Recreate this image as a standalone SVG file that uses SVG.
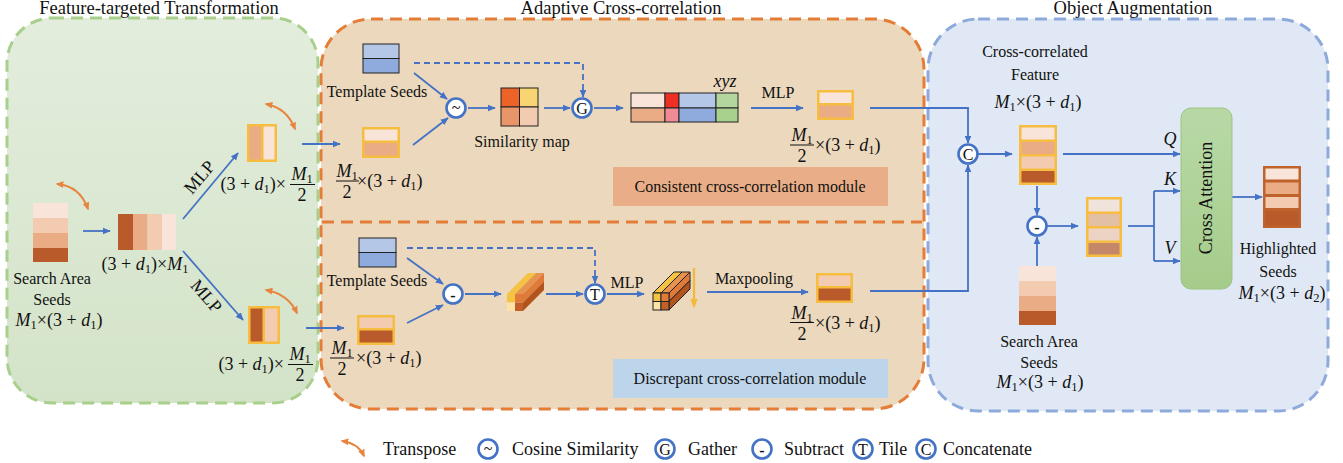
<svg xmlns="http://www.w3.org/2000/svg" width="1343" height="463" viewBox="0 0 1343 463">
<defs>
  <linearGradient id="gGreen" x1="0" y1="0" x2="0" y2="1">
    <stop offset="0" stop-color="#e3eddd"/>
    <stop offset="1" stop-color="#d3e3c8"/>
  </linearGradient>
  <linearGradient id="gAttn" x1="0" y1="0" x2="0" y2="1">
    <stop offset="0" stop-color="#b8d9a6"/>
    <stop offset="1" stop-color="#a5cc8b"/>
  </linearGradient>
  <marker id="ab" viewBox="0 0 10 10" refX="9" refY="5" markerWidth="8" markerHeight="8" markerUnits="userSpaceOnUse" orient="auto">
    <path d="M0,0.8 L10,5 L0,9.2 z" fill="#4472c4"/>
  </marker>
  <marker id="ao" viewBox="0 0 10 10" refX="8" refY="5" markerWidth="8" markerHeight="8" markerUnits="userSpaceOnUse" orient="auto-start-reverse">
    <path d="M0,0.8 L10,5 L0,9.2 z" fill="#e7843f"/>
  </marker>
  <marker id="ay" viewBox="0 0 10 10" refX="9" refY="5" markerWidth="9" markerHeight="9" markerUnits="userSpaceOnUse" orient="auto">
    <path d="M0,0.8 L10,5 L0,9.2 z" fill="#f5b93a"/>
  </marker>
  <style>
    .t { font-family: "Liberation Serif", "Times New Roman", serif; font-size: 16px; fill: #111; }
    .ttl { font-family: "Liberation Serif", "Times New Roman", serif; font-size: 18.5px; fill: #111; }
    .lg { font-family: "Liberation Serif", "Times New Roman", serif; font-size: 18px; fill: #111; }
    .mt { font-family: "Liberation Serif", "Times New Roman", serif; font-size: 18px; fill: #111; }
    .it { font-style: italic; }
    .sb { font-size: 12.5px; }
    .op { fill: #fff; stroke: #4472c4; stroke-width: 2.6; }
    .opt { font-family: "Liberation Serif", "Times New Roman", serif; font-size: 16px; fill: #111; text-anchor: middle; }
    .arr { fill: none; stroke: #4472c4; stroke-width: 1.8; marker-end: url(#ab); }
    .ln { fill: none; stroke: #4472c4; stroke-width: 1.8; }
    .dash { fill: none; stroke: #4472c4; stroke-width: 1.8; stroke-dasharray: 6 4; marker-end: url(#ab); }
    .tp { fill: none; stroke: #e7843f; stroke-width: 2; marker-start: url(#ao); marker-end: url(#ao); }
    .bar { stroke: #111; stroke-width: 1; }
    .cell { stroke: #222; stroke-width: 1; }
    .c0 { fill: #f8e4d8; }
    .c1 { fill: #f2cbb0; }
    .c2 { fill: #eaac85; }
    .c3 { fill: #b85a2a; }
    .yb { fill: #f6bd41; }
    .blA { fill: #b4c7e7; }
    .blB { fill: #8faadc; }
    .edge { stroke: #222; stroke-width: 1; }
  </style>
</defs>

<!-- background panels -->
<g id="panel-feature">
  <rect x="7" y="18" width="311" height="385" rx="45" fill="url(#gGreen)" stroke="#a9cf8c" stroke-width="3" stroke-dasharray="12 7"/>
  <text class="ttl" x="159" y="14" text-anchor="middle">Feature-targeted Transformation</text>
</g>
<g id="panel-adaptive">
  <rect x="321" y="19" width="603" height="390" rx="50" fill="#ebd8bd" stroke="#e37d38" stroke-width="3" stroke-dasharray="12 7"/>
  <line x1="322" y1="222" x2="922" y2="222" stroke="#e37d38" stroke-width="3" stroke-dasharray="12 7"/>
  <text class="ttl" x="621" y="14" text-anchor="middle">Adaptive Cross-correlation</text>
</g>
<g id="panel-object">
  <rect x="928" y="19" width="400" height="392" rx="50" fill="#dfe8f4" stroke="#8eaadb" stroke-width="3" stroke-dasharray="12 7"/>
  <text class="ttl" x="1133" y="14" text-anchor="middle">Object Augmentation</text>
</g>

<!-- connectors -->
<g id="connectors">
  <!-- feature-targeted transformation -->
  <path class="arr" d="M83,231 H110"/>
  <path class="arr" d="M183,219 L238,153"/>
  <path class="arr" d="M183,251 L243,320"/>
  <path class="tp" d="M57,184 Q80,186 88,209"/>
  <path class="tp" d="M266,104 Q287,108 295,129"/>
  <path class="tp" d="M266,290 Q288,294 297,313"/>
  <path class="arr" d="M302,144 H340"/>
  <path class="arr" d="M306,328 H344"/>
  <!-- consistent branch -->
  <path class="arr" d="M414,73 L447,99"/>
  <path class="arr" d="M413,145 L448,118"/>
  <path class="arr" d="M468,108 H495"/>
  <path class="arr" d="M544,108 H570"/>
  <path class="dash" d="M414,63 H583 V97"/>
  <path class="arr" d="M594,108 H623"/>
  <path class="arr" d="M751,108 H803"/>
  <path class="arr" d="M870,108 H968 V143"/>
  <!-- discrepant branch -->
  <path class="arr" d="M407,258 L443,284"/>
  <path class="arr" d="M407,323 L443,305"/>
  <path class="arr" d="M465,294 H501"/>
  <path class="dash" d="M407,248 H595 V283"/>
  <path class="arr" d="M546,294 H583"/>
  <path class="arr" d="M607,294 H644"/>
  <path d="M694,268 V307" fill="none" stroke="#f5b93a" stroke-width="2.2" marker-end="url(#ay)"/>
  <path class="arr" d="M707,292 H808"/>
  <path class="arr" d="M870,291 H968 V165"/>
  <!-- object augmentation -->
  <path class="arr" d="M978,154 H1012"/>
  <path class="arr" d="M1063,154 H1180"/>
  <path class="arr" d="M1037,186 V215"/>
  <path class="arr" d="M1037,266 V237"/>
  <path class="arr" d="M1047,226 H1078"/>
  <path class="ln" d="M1128,226 H1154"/>
  <path class="ln" d="M1154,191 V261"/>
  <path class="arr" d="M1154,191 H1180"/>
  <path class="arr" d="M1154,261 H1180"/>
  <path class="arr" d="M1232,197 H1262"/>
</g>

<!-- search area seeds (input) -->
<g id="search-seeds">
  <rect class="c0" x="33" y="203" width="35" height="15"/>
  <rect class="c1" x="33" y="218" width="35" height="15"/>
  <rect class="c2" x="33" y="233" width="35" height="15"/>
  <rect class="c3" x="33" y="248" width="35" height="14"/>
  <text class="t" x="52" y="284" text-anchor="middle">Search Area</text>
  <text class="t" x="52" y="305" text-anchor="middle">Seeds</text>
  <text class="mt" x="59" y="326" text-anchor="middle"><tspan class="it">M</tspan><tspan class="sb" dy="3">1</tspan><tspan dy="-3">×(3 + </tspan><tspan class="it">d</tspan><tspan class="sb" dy="3">1</tspan><tspan dy="-3">)</tspan></text>
</g>

<g id="transposed-seeds">
  <rect class="c3" x="118" y="214" width="15" height="36"/>
  <rect class="c2" x="133" y="214" width="14.5" height="36"/>
  <rect class="c1" x="147.5" y="214" width="14.5" height="36"/>
  <rect class="c0" x="162" y="214" width="14" height="36"/>
  <text class="mt" x="145" y="270" text-anchor="middle">(3 + <tspan class="it">d</tspan><tspan class="sb" dy="3">1</tspan><tspan dy="-3">)×</tspan><tspan class="it">M</tspan><tspan class="sb" dy="3">1</tspan></text>
  <text class="mt" transform="translate(204,181) rotate(-50)" text-anchor="middle">MLP</text>
  <text class="mt" transform="translate(202,300) rotate(49)" text-anchor="middle">MLP</text>
</g>

<g id="split-upper">
  <rect class="yb" x="247" y="124" width="30" height="38"/>
  <rect class="c2" x="249.5" y="126.5" width="11.5" height="33"/>
  <rect class="c0" x="263.5" y="126.5" width="11" height="33"/>
  <text class="mt" x="286" y="190" text-anchor="end">(3 + <tspan class="it">d</tspan><tspan class="sb" dy="3">1</tspan><tspan dy="-3">)×</tspan></text>
  <text class="mt" x="302" y="180" text-anchor="middle"><tspan class="it">M</tspan><tspan class="sb" dy="3">1</tspan></text>
  <line class="bar" x1="290" y1="184.5" x2="315" y2="184.5"/>
  <text class="mt" x="302" y="201" text-anchor="middle">2</text>
</g>

<g id="split-lower">
  <rect class="yb" x="248" y="306" width="32" height="38"/>
  <rect class="c3" x="250.5" y="308.5" width="12" height="33"/>
  <rect class="c1" x="265" y="308.5" width="12.5" height="33"/>
  <text class="mt" x="284" y="370" text-anchor="end">(3 + <tspan class="it">d</tspan><tspan class="sb" dy="3">1</tspan><tspan dy="-3">)×</tspan></text>
  <text class="mt" x="300" y="360" text-anchor="middle"><tspan class="it">M</tspan><tspan class="sb" dy="3">1</tspan></text>
  <line class="bar" x1="288" y1="364.5" x2="313" y2="364.5"/>
  <text class="mt" x="300" y="381" text-anchor="middle">2</text>
</g>

<!-- consistent cross-correlation -->
<g id="template-seeds-top">
  <rect class="blA edge" x="363" y="44" width="36" height="14.5"/>
  <rect class="blB edge" x="363" y="58.5" width="36" height="14.5"/>
  <text class="t" x="377" y="97" text-anchor="middle">Template Seeds</text>
</g>

<g id="search-half-top">
  <rect class="yb" x="362" y="127" width="38" height="31"/>
  <rect class="c0" x="364.5" y="129.5" width="33" height="11"/>
  <rect class="c2" x="364.5" y="143" width="33" height="12.5"/>
  <text class="mt" x="347" y="177" text-anchor="middle"><tspan class="it">M</tspan><tspan class="sb" dy="3">1</tspan></text>
  <line class="bar" x1="336" y1="181" x2="359" y2="181"/>
  <text class="mt" x="347" y="198" text-anchor="middle">2</text>
  <text class="mt" x="357" y="187">×(3 + <tspan class="it">d</tspan><tspan class="sb" dy="3">1</tspan><tspan dy="-3">)</tspan></text>
</g>

<g id="op-cosine">
  <circle class="op" cx="456" cy="108" r="9.5"/>
  <text class="opt" x="456" y="113">~</text>
</g>

<g id="similarity-map">
  <rect class="cell" x="501" y="88" width="18.5" height="19" fill="#eb6328"/>
  <rect class="cell" x="519.5" y="88" width="18.5" height="19" fill="#f8d572"/>
  <rect class="cell" x="501" y="107" width="18.5" height="19" fill="#e9956a"/>
  <rect class="cell" x="519.5" y="107" width="18.5" height="19" fill="#f2cbb0"/>
  <text class="t" x="522" y="147" text-anchor="middle">Similarity map</text>
</g>

<g id="op-gather">
  <circle class="op" cx="582" cy="108" r="9.5"/>
  <text class="opt" x="582" y="113.5">G</text>
</g>

<g id="gathered-feature">
  <rect class="cell" x="631" y="93" width="34" height="15" fill="#f8e4d8"/>
  <rect class="cell" x="631" y="108" width="34" height="14" fill="#eaac85"/>
  <rect class="cell" x="665" y="93" width="14" height="15" fill="#ee3024"/>
  <rect class="cell" x="665" y="108" width="14" height="14" fill="#f08a95"/>
  <rect class="cell" x="679" y="93" width="37" height="15" fill="#b4c7e7"/>
  <rect class="cell" x="679" y="108" width="37" height="14" fill="#8faadc"/>
  <rect class="cell" x="716" y="93" width="22" height="15" fill="#b3d69e"/>
  <rect class="cell" x="716" y="108" width="22" height="14" fill="#a9d18e"/>
  <text class="mt it" x="725" y="87" text-anchor="middle">xyz</text>
  <text class="t" x="778" y="98" text-anchor="middle">MLP</text>
</g>

<g id="consistent-output">
  <rect class="yb" x="817" y="90" width="37" height="30"/>
  <rect class="c0" x="819.5" y="92.5" width="32" height="10.5"/>
  <rect class="c2" x="819.5" y="105.5" width="32" height="12"/>
  <text class="mt" x="802" y="141" text-anchor="middle"><tspan class="it">M</tspan><tspan class="sb" dy="3">1</tspan></text>
  <line class="bar" x1="790" y1="145" x2="814" y2="145"/>
  <text class="mt" x="802" y="162" text-anchor="middle">2</text>
  <text class="mt" x="815" y="151">×(3 + <tspan class="it">d</tspan><tspan class="sb" dy="3">1</tspan><tspan dy="-3">)</tspan></text>
</g>

<g id="consistent-module-label">
  <rect x="613" y="167" width="275" height="39" fill="#e9ae87"/>
  <text class="t" x="750" y="192" text-anchor="middle">Consistent cross-correlation module</text>
</g>

<!-- discrepant cross-correlation -->
<g id="template-seeds-bottom">
  <rect class="blA edge" x="359" y="238" width="37" height="14.5"/>
  <rect class="blB edge" x="359" y="252.5" width="37" height="14.5"/>
  <text class="t" x="377" y="286" text-anchor="middle">Template Seeds</text>
</g>

<g id="search-half-bottom">
  <rect class="yb" x="357" y="315" width="38" height="30"/>
  <rect class="c1" x="359.5" y="317.5" width="33" height="10.5"/>
  <rect class="c3" x="359.5" y="330.5" width="33" height="12"/>
  <text class="mt" x="342" y="354" text-anchor="middle"><tspan class="it">M</tspan><tspan class="sb" dy="3">1</tspan></text>
  <line class="bar" x1="330" y1="358" x2="354" y2="358"/>
  <text class="mt" x="342" y="375" text-anchor="middle">2</text>
  <text class="mt" x="356" y="364">×(3 + <tspan class="it">d</tspan><tspan class="sb" dy="3">1</tspan><tspan dy="-3">)</tspan></text>
</g>

<g id="op-subtract-1">
  <circle class="op" cx="453" cy="294" r="9.5"/>
  <text class="opt" x="453" y="301" font-weight="bold">-</text>
</g>

<g id="difference-cuboid">
  <polygon points="507,294 515,294 536,273 528,273" fill="#f5c342"/>
  <polygon points="515,294 523,294 544,273 536,273" fill="#e8924f"/>
  <polygon points="523,294 544,273 544,281.5 523,302.5" fill="#df7a38"/>
  <polygon points="523,302.5 544,281.5 544,290 523,311" fill="#b2541e"/>
  <rect x="507" y="294" width="8" height="8.5" fill="#f5c342"/>
  <rect x="515" y="294" width="8" height="8.5" fill="#e07b39"/>
  <rect x="507" y="302.5" width="8" height="8.5" fill="#fde2a6"/>
  <rect x="515" y="302.5" width="8" height="8.5" fill="#c2602a"/>
</g>

<g id="op-tile">
  <circle class="op" cx="595" cy="294" r="9.5"/>
  <text class="opt" x="595" y="299.5">T</text>
  <text class="t" x="627" y="288" text-anchor="middle">MLP</text>
</g>

<g id="tiled-cuboid">
  <polygon class="edge" points="653,293 661,293 682,272 674,272" fill="#f5c342"/>
  <polygon class="edge" points="661,293 669,293 690,272 682,272" fill="#e8924f"/>
  <polygon class="edge" points="669,293 690,272 690,280.5 669,301.5" fill="#df7a38"/>
  <polygon class="edge" points="669,301.5 690,280.5 690,289 669,310" fill="#b2541e"/>
  <rect class="edge" x="653" y="293" width="8" height="8.5" fill="#f5c342"/>
  <rect class="edge" x="661" y="293" width="8" height="8.5" fill="#e07b39"/>
  <rect class="edge" x="653" y="301.5" width="8" height="8.5" fill="#fde2a6"/>
  <rect class="edge" x="661" y="301.5" width="8" height="8.5" fill="#c2602a"/>
  <text class="t" x="754" y="284" text-anchor="middle">Maxpooling</text>
</g>

<g id="discrepant-output">
  <rect class="yb" x="816" y="273" width="37" height="30"/>
  <rect class="c1" x="818.5" y="275.5" width="32" height="10.5"/>
  <rect class="c3" x="818.5" y="288.5" width="32" height="12"/>
  <text class="mt" x="802" y="319" text-anchor="middle"><tspan class="it">M</tspan><tspan class="sb" dy="3">1</tspan></text>
  <line class="bar" x1="790" y1="322.5" x2="814" y2="322.5"/>
  <text class="mt" x="802" y="340" text-anchor="middle">2</text>
  <text class="mt" x="815" y="329">×(3 + <tspan class="it">d</tspan><tspan class="sb" dy="3">1</tspan><tspan dy="-3">)</tspan></text>
</g>

<g id="discrepant-module-label">
  <rect x="613" y="359" width="275" height="39" fill="#bdd5eb"/>
  <text class="t" x="750" y="384" text-anchor="middle">Discrepant cross-correlation module</text>
</g>

<!-- object augmentation -->
<g id="op-concat">
  <circle class="op" cx="968" cy="154" r="9.5"/>
  <text class="opt" x="968" y="159.5">C</text>
</g>

<g id="cross-correlated-feature">
  <text class="t" x="1035" y="57" text-anchor="middle">Cross-correlated</text>
  <text class="t" x="1035" y="80" text-anchor="middle">Feature</text>
  <text class="mt" x="1038" y="108" text-anchor="middle"><tspan class="it">M</tspan><tspan class="sb" dy="3">1</tspan><tspan dy="-3">×(3 + </tspan><tspan class="it">d</tspan><tspan class="sb" dy="3">1</tspan><tspan dy="-3">)</tspan></text>
  <rect class="yb" x="1019" y="125" width="38" height="60"/>
  <rect class="c0" x="1021.5" y="127.5" width="33" height="12"/>
  <rect class="c2" x="1021.5" y="142" width="33" height="12"/>
  <rect class="c1" x="1021.5" y="156.5" width="33" height="12"/>
  <rect class="c3" x="1021.5" y="171" width="33" height="11.5"/>
  <text class="mt it" x="1170" y="145" text-anchor="middle">Q</text>
</g>

<g id="op-subtract-2">
  <circle class="op" cx="1037" cy="226" r="9.5"/>
  <text class="opt" x="1037" y="233" font-weight="bold">-</text>
</g>

<g id="residual-feature">
  <rect class="yb" x="1086" y="197" width="36" height="60"/>
  <rect x="1088.5" y="199.5" width="31" height="12" fill="#efe3dc"/>
  <rect x="1088.5" y="214" width="31" height="12" fill="#e3bfa3"/>
  <rect x="1088.5" y="228.5" width="31" height="12" fill="#ecd3c4"/>
  <rect x="1088.5" y="243" width="31" height="11.5" fill="#c4876a"/>
  <text class="mt it" x="1170" y="185" text-anchor="middle">K</text>
  <text class="mt it" x="1170" y="254" text-anchor="middle">V</text>
</g>

<g id="search-seeds-2">
  <rect class="c0" x="1019" y="266" width="37" height="15"/>
  <rect class="c1" x="1019" y="281" width="37" height="15"/>
  <rect class="c2" x="1019" y="296" width="37" height="15"/>
  <rect class="c3" x="1019" y="311" width="37" height="14"/>
  <text class="t" x="1039" y="347" text-anchor="middle">Search Area</text>
  <text class="t" x="1039" y="368" text-anchor="middle">Seeds</text>
  <text class="mt" x="1040" y="388" text-anchor="middle"><tspan class="it">M</tspan><tspan class="sb" dy="3">1</tspan><tspan dy="-3">×(3 + </tspan><tspan class="it">d</tspan><tspan class="sb" dy="3">1</tspan><tspan dy="-3">)</tspan></text>
</g>

<g id="cross-attention">
  <rect x="1181" y="108" width="51" height="181" rx="10" fill="url(#gAttn)" stroke="#9cc480" stroke-width="1"/>
  <text class="mt" transform="translate(1212,198) rotate(-90)" text-anchor="middle">Cross Attention</text>
</g>

<g id="highlighted-seeds">
  <rect x="1263" y="166" width="38" height="62" fill="#c0622b"/>
  <rect class="c0" x="1265.5" y="168.5" width="33" height="11"/>
  <rect class="c2" x="1265.5" y="182.5" width="33" height="11.5"/>
  <rect class="c1" x="1265.5" y="197" width="33" height="11"/>
  <rect class="c3" x="1265.5" y="211" width="33" height="14.5"/>
  <text class="t" x="1278" y="254" text-anchor="middle">Highlighted</text>
  <text class="t" x="1278" y="277" text-anchor="middle">Seeds</text>
  <text class="mt" x="1282" y="299" text-anchor="middle"><tspan class="it">M</tspan><tspan class="sb" dy="3">1</tspan><tspan dy="-3">×(3 + </tspan><tspan class="it">d</tspan><tspan class="sb" dy="3">2</tspan><tspan dy="-3">)</tspan></text>
</g>

<!-- legend -->
<g id="legend">
  <path class="tp" d="M342,441 Q358,443 364,456"/>
  <text class="lg" x="383" y="455">Transpose</text>
  <circle class="op" cx="488" cy="449" r="9.5"/>
  <text class="opt" x="488" y="454">~</text>
  <text class="lg" x="512" y="455">Cosine Similarity</text>
  <circle class="op" cx="665" cy="449" r="9.5"/>
  <text class="opt" x="665" y="454.5">G</text>
  <text class="lg" x="688" y="455">Gather</text>
  <circle class="op" cx="762" cy="449" r="9.5"/>
  <text class="opt" x="762" y="456" font-weight="bold">-</text>
  <text class="lg" x="784" y="455">Subtract</text>
  <circle class="op" cx="863" cy="449" r="9.5"/>
  <text class="opt" x="863" y="454.5">T</text>
  <text class="lg" x="879" y="455">Tile</text>
  <circle class="op" cx="926" cy="449" r="9.5"/>
  <text class="opt" x="926" y="454.5">C</text>
  <text class="lg" x="943" y="455">Concatenate</text>
</g>
</svg>
